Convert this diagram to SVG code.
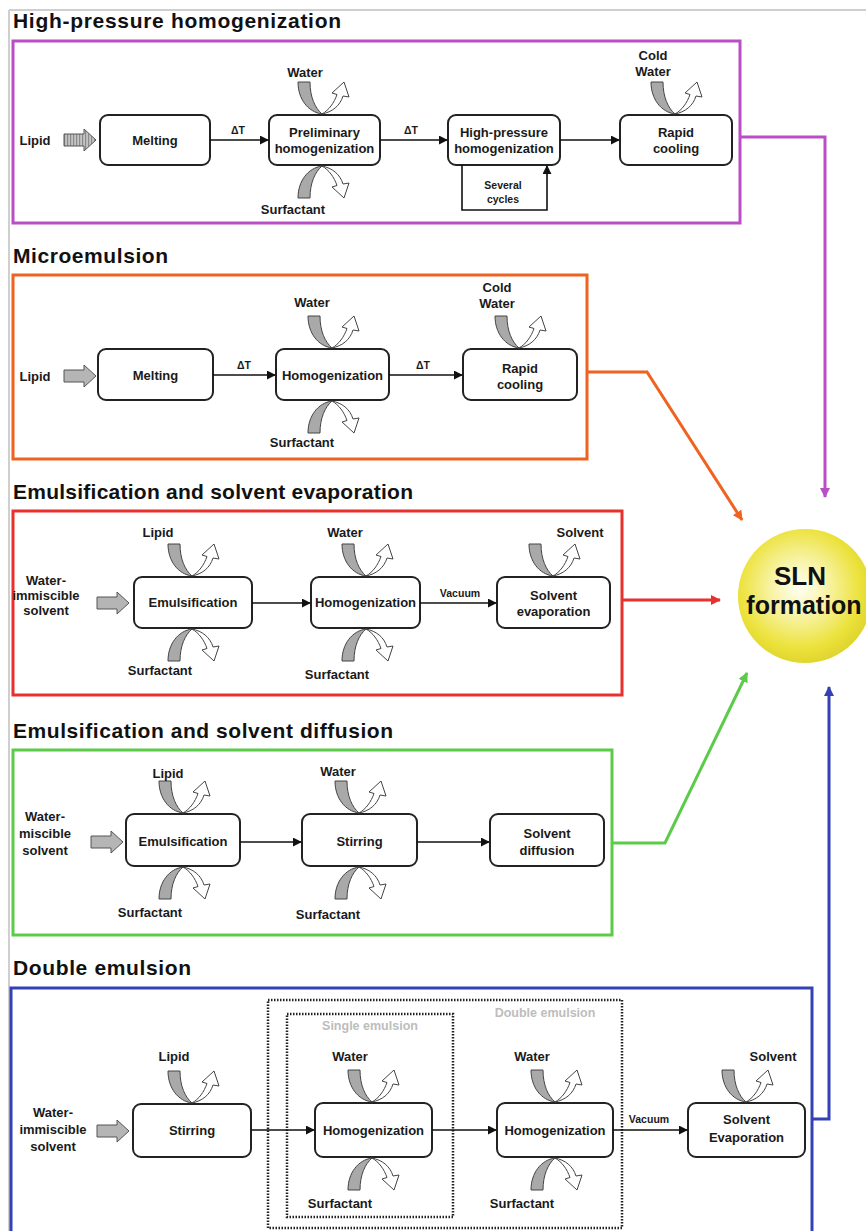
<svg xmlns="http://www.w3.org/2000/svg" width="866" height="1231" viewBox="0 0 866 1231">
<style>
text{font-family:"Liberation Sans",Arial,sans-serif;font-weight:bold;fill:#1a1a1a}
.title{font-size:21px;fill:#111}
.lbl{font-size:13px;text-anchor:middle}
.sm{font-size:10.5px;text-anchor:middle}
.ghost{font-size:12.5px;text-anchor:middle;fill:#bdbdbd}
.box{fill:#fff;stroke:#222;stroke-width:2}
.frame{fill:none;stroke-width:3}
.conn{fill:none;stroke:#111;stroke-width:1.6}
.dot{fill:none;stroke:#222;stroke-width:2.5;stroke-dasharray:1.5 1.5}
</style>
<defs>
<marker id="ah" viewBox="0 0 10 10" refX="9" refY="5" markerWidth="9" markerHeight="9" markerUnits="userSpaceOnUse" orient="auto"><path d="M0,0 L10,5 L0,10 Z" fill="#111"/></marker>
<marker id="ahP" viewBox="0 0 10 10" refX="9" refY="5" markerWidth="10" markerHeight="10" markerUnits="userSpaceOnUse" orient="auto"><path d="M0,0 L10,5 L0,10 Z" fill="#b84fc4"/></marker>
<marker id="ahO" viewBox="0 0 10 10" refX="9" refY="5" markerWidth="10" markerHeight="10" markerUnits="userSpaceOnUse" orient="auto"><path d="M0,0 L10,5 L0,10 Z" fill="#f0621f"/></marker>
<marker id="ahR" viewBox="0 0 10 10" refX="9" refY="5" markerWidth="10" markerHeight="10" markerUnits="userSpaceOnUse" orient="auto"><path d="M0,0 L10,5 L0,10 Z" fill="#e8302c"/></marker>
<marker id="ahG" viewBox="0 0 10 10" refX="9" refY="5" markerWidth="10" markerHeight="10" markerUnits="userSpaceOnUse" orient="auto"><path d="M0,0 L10,5 L0,10 Z" fill="#5ccb4a"/></marker>
<marker id="ahB" viewBox="0 0 10 10" refX="9" refY="5" markerWidth="10" markerHeight="10" markerUnits="userSpaceOnUse" orient="auto"><path d="M0,0 L10,5 L0,10 Z" fill="#3440b4"/></marker>
<pattern id="hatch" width="3" height="3" patternUnits="userSpaceOnUse"><rect width="3" height="3" fill="#c4c4c4"/><rect width="1.2" height="3" fill="#8a8a8a"/></pattern>
<radialGradient id="sun" cx="0.46" cy="0.44" r="0.6">
<stop offset="0" stop-color="#fffff2"/>
<stop offset="0.35" stop-color="#f8f3a6"/>
<stop offset="0.75" stop-color="#ece23c"/>
<stop offset="1" stop-color="#ddd12a"/>
</radialGradient>
<g id="curl">
<path d="M-24,-32 L-12,-32 C-12,-17 -7,-6 0,0 C-14,-2 -24,-15 -24,-32 Z" fill="#a9a9a9" stroke="#444" stroke-width="1"/>
<path d="M0,0 C10,-2 18,-8 21,-18 L27,-17 L22,-32 L10,-21 L15,-19.5 C12,-11 7,-4 0,0 Z" fill="#fff" stroke="#444" stroke-width="1"/>
</g>
<path id="blk" d="M0,-6 H20 V-11 L32,0 L20,11 V6 H0 Z" stroke="#555" stroke-width="1"/>
</defs>

<g id="page-frame">
<line x1="9" y1="10" x2="9" y2="1231" stroke="#cfcfcf" stroke-width="2"/>
<line x1="9" y1="10" x2="866" y2="10" stroke="#cfcfcf" stroke-width="2"/>
</g>

<!-- Section 1 -->
<g id="sec-hph">
<text class="title" x="13" y="28" textLength="328">High-pressure homogenization</text>
<rect class="frame" x="13" y="41" width="727" height="182" stroke="#b84fc4"/>
<text class="lbl" x="35" y="145">Lipid</text>
<use href="#blk" x="64" y="140" fill="url(#hatch)"/>
</g>
<g id="n1-melting"><rect class="box" x="100" y="115" width="110" height="50" rx="8"/><text class="lbl" x="155" y="145">Melting</text></g>
<g id="n1-prelim"><rect class="box" x="269" y="115" width="111" height="50" rx="8"/><text class="lbl" x="324.5" y="137">Preliminary</text><text class="lbl" x="324.5" y="153">homogenization</text>
<use href="#curl" transform="translate(322,114)"/><text class="lbl" x="305" y="77">Water</text>
<use href="#curl" transform="translate(322,166) scale(1,-1)"/><text class="lbl" x="293" y="214">Surfactant</text></g>
<g id="n1-hph"><rect class="box" x="448" y="115" width="112" height="50" rx="8"/><text class="lbl" x="504" y="137">High-pressure</text><text class="lbl" x="504" y="153">homogenization</text>
<text class="sm" x="503" y="189">Several</text><text class="sm" x="503" y="203">cycles</text></g>
<g id="n1-cool"><rect class="box" x="620" y="115" width="112" height="50" rx="8"/><text class="lbl" x="676" y="137">Rapid</text><text class="lbl" x="676" y="153">cooling</text>
<use href="#curl" transform="translate(675,114)"/><text class="lbl" x="653" y="60">Cold</text><text class="lbl" x="653" y="76">Water</text></g>

<!-- Section 2 -->
<g id="sec-micro">
<text class="title" x="13" y="263" textLength="155">Microemulsion</text>
<rect class="frame" x="13" y="275" width="574" height="184" stroke="#f0621f"/>
<text class="lbl" x="35" y="381">Lipid</text>
<use href="#blk" x="64" y="376" fill="#b5b5b5"/>
</g>
<g id="n2-melting"><rect class="box" x="98" y="349" width="115" height="51" rx="8"/><text class="lbl" x="155.5" y="380">Melting</text></g>
<g id="n2-homo"><rect class="box" x="276" y="349" width="113" height="51" rx="8"/><text class="lbl" x="332.5" y="380">Homogenization</text>
<use href="#curl" transform="translate(332,348)"/><text class="lbl" x="312" y="307">Water</text>
<use href="#curl" transform="translate(332,401) scale(1,-1)"/><text class="lbl" x="302" y="447">Surfactant</text></g>
<g id="n2-cool"><rect class="box" x="463" y="349" width="114" height="51" rx="8"/><text class="lbl" x="520" y="373">Rapid</text><text class="lbl" x="520" y="389">cooling</text>
<use href="#curl" transform="translate(519,348)"/><text class="lbl" x="497" y="292">Cold</text><text class="lbl" x="497" y="308">Water</text></g>

<!-- Section 3 -->
<g id="sec-evap">
<text class="title" x="13" y="499" textLength="400">Emulsification and solvent evaporation</text>
<rect class="frame" x="13" y="511" width="609" height="184" stroke="#e8302c"/>
<text class="lbl" x="46" y="585">Water-</text><text class="lbl" x="46" y="600">immiscible</text><text class="lbl" x="46" y="615">solvent</text>
<use href="#blk" x="97" y="603" fill="#b5b5b5"/>
</g>
<g id="n3-emul"><rect class="box" x="134" y="577" width="118" height="51" rx="8"/><text class="lbl" x="193" y="607">Emulsification</text>
<use href="#curl" transform="translate(192,576)"/><text class="lbl" x="158" y="537">Lipid</text>
<use href="#curl" transform="translate(192,629) scale(1,-1)"/><text class="lbl" x="160" y="675">Surfactant</text></g>
<g id="n3-homo"><rect class="box" x="311" y="577" width="109" height="51" rx="8"/><text class="lbl" x="365.5" y="607">Homogenization</text>
<use href="#curl" transform="translate(366,576)"/><text class="lbl" x="345" y="537">Water</text>
<use href="#curl" transform="translate(366,629) scale(1,-1)"/><text class="lbl" x="337" y="679">Surfactant</text></g>
<g id="n3-evap"><rect class="box" x="497" y="577" width="113" height="51" rx="8"/><text class="lbl" x="553.5" y="600">Solvent</text><text class="lbl" x="553.5" y="616">evaporation</text>
<use href="#curl" transform="translate(553,576)"/><text class="lbl" x="580" y="537">Solvent</text></g>

<!-- Section 4 -->
<g id="sec-diff">
<text class="title" x="13" y="738" textLength="380">Emulsification and solvent diffusion</text>
<rect class="frame" x="13" y="750" width="599" height="185" stroke="#5ccb4a"/>
<text class="lbl" x="45" y="821">Water-</text><text class="lbl" x="45" y="838">miscible</text><text class="lbl" x="45" y="855">solvent</text>
<use href="#blk" x="91" y="842" fill="#b5b5b5"/>
</g>
<g id="n4-emul"><rect class="box" x="126" y="814" width="114" height="52" rx="8"/><text class="lbl" x="183" y="846">Emulsification</text>
<use href="#curl" transform="translate(183,813)"/><text class="lbl" x="168" y="778">Lipid</text>
<use href="#curl" transform="translate(183,867) scale(1,-1)"/><text class="lbl" x="150" y="917">Surfactant</text></g>
<g id="n4-stir"><rect class="box" x="302" y="814" width="115" height="52" rx="8"/><text class="lbl" x="359.5" y="846">Stirring</text>
<use href="#curl" transform="translate(359,813)"/><text class="lbl" x="338" y="776">Water</text>
<use href="#curl" transform="translate(359,867) scale(1,-1)"/><text class="lbl" x="328" y="919">Surfactant</text></g>
<g id="n4-diff"><rect class="box" x="490" y="814" width="114" height="52" rx="8"/><text class="lbl" x="547" y="838">Solvent</text><text class="lbl" x="547" y="855">diffusion</text></g>

<!-- Section 5 -->
<g id="sec-double">
<text class="title" x="13" y="975" textLength="178">Double emulsion</text>
<rect class="frame" x="11" y="988" width="801" height="250" stroke="#3440b4"/>
<text class="lbl" x="53" y="1117">Water-</text><text class="lbl" x="53" y="1134">immiscible</text><text class="lbl" x="53" y="1151">solvent</text>
<use href="#blk" x="97" y="1131" fill="#b5b5b5"/>
<rect class="dot" x="268" y="1000" width="354" height="228"/>
<rect class="dot" x="287" y="1014" width="166" height="203"/>
<text class="ghost" x="370" y="1030">Single emulsion</text>
<text class="ghost" x="545" y="1017">Double emulsion</text>
</g>
<g id="n5-stir"><rect class="box" x="133" y="1104" width="118" height="53" rx="8"/><text class="lbl" x="192" y="1135">Stirring</text>
<use href="#curl" transform="translate(192,1103)"/><text class="lbl" x="174" y="1061">Lipid</text></g>
<g id="n5-homo1"><rect class="box" x="315" y="1103" width="117" height="54" rx="8"/><text class="lbl" x="373.5" y="1135">Homogenization</text>
<use href="#curl" transform="translate(372,1102)"/><text class="lbl" x="350" y="1061">Water</text>
<use href="#curl" transform="translate(372,1158) scale(1,-1)"/><text class="lbl" x="340" y="1208">Surfactant</text></g>
<g id="n5-homo2"><rect class="box" x="497" y="1103" width="116" height="54" rx="8"/><text class="lbl" x="555" y="1135">Homogenization</text>
<use href="#curl" transform="translate(555,1102)"/><text class="lbl" x="532" y="1061">Water</text>
<use href="#curl" transform="translate(555,1158) scale(1,-1)"/><text class="lbl" x="522" y="1208">Surfactant</text></g>
<g id="n5-evap"><rect class="box" x="688" y="1103" width="117" height="54" rx="8"/><text class="lbl" x="746.5" y="1124">Solvent</text><text class="lbl" x="746.5" y="1142">Evaporation</text>
<use href="#curl" transform="translate(746,1102)"/><text class="lbl" x="773" y="1061">Solvent</text></g>

<!-- SLN -->
<g id="sln">
<circle cx="805" cy="596" r="67" fill="url(#sun)"/>
<text x="800" y="585" style="font-size:26px;text-anchor:middle;fill:#111">SLN</text>
<text x="804" y="614" style="font-size:25px;text-anchor:middle;fill:#111">formation</text>
</g>

<g id="connectors">
<line class="conn" x1="210" y1="140" x2="268" y2="140" marker-end="url(#ah)"/>
<text class="sm" x="238" y="134">ΔT</text>
<line class="conn" x1="380" y1="140" x2="447" y2="140" marker-end="url(#ah)"/>
<text class="sm" x="411" y="134">ΔT</text>
<line class="conn" x1="560" y1="140" x2="619" y2="140" marker-end="url(#ah)"/>
<path class="conn" d="M462,165 V210 H547 V166" marker-end="url(#ah)"/>

<line class="conn" x1="213" y1="375" x2="275" y2="375" marker-end="url(#ah)"/>
<text class="sm" x="244" y="369">ΔT</text>
<line class="conn" x1="389" y1="375" x2="462" y2="375" marker-end="url(#ah)"/>
<text class="sm" x="423" y="369">ΔT</text>

<line class="conn" x1="252" y1="603" x2="310" y2="603" marker-end="url(#ah)"/>
<line class="conn" x1="420" y1="603" x2="496" y2="603" marker-end="url(#ah)"/>
<text class="sm" x="460" y="597">Vacuum</text>

<line class="conn" x1="240" y1="842" x2="301" y2="842" marker-end="url(#ah)"/>
<line class="conn" x1="417" y1="842" x2="489" y2="842" marker-end="url(#ah)"/>

<line class="conn" x1="251" y1="1130" x2="314" y2="1130" marker-end="url(#ah)"/>
<line class="conn" x1="432" y1="1130" x2="496" y2="1130" marker-end="url(#ah)"/>
<line class="conn" x1="613" y1="1130" x2="687" y2="1130" marker-end="url(#ah)"/>
<text class="sm" x="649" y="1123">Vacuum</text>

<path d="M740,137 H825 V497" fill="none" stroke="#b84fc4" stroke-width="3" marker-end="url(#ahP)"/>
<path d="M587,372 H647 L742,520" fill="none" stroke="#f0621f" stroke-width="3" marker-end="url(#ahO)"/>
<path d="M622,600 H720" fill="none" stroke="#e8302c" stroke-width="3" marker-end="url(#ahR)"/>
<path d="M612,843 H665 L747,673" fill="none" stroke="#5ccb4a" stroke-width="3" marker-end="url(#ahG)"/>
<path d="M812,1119 H829 V687" fill="none" stroke="#3440b4" stroke-width="3" marker-end="url(#ahB)"/>
</g>
</svg>
